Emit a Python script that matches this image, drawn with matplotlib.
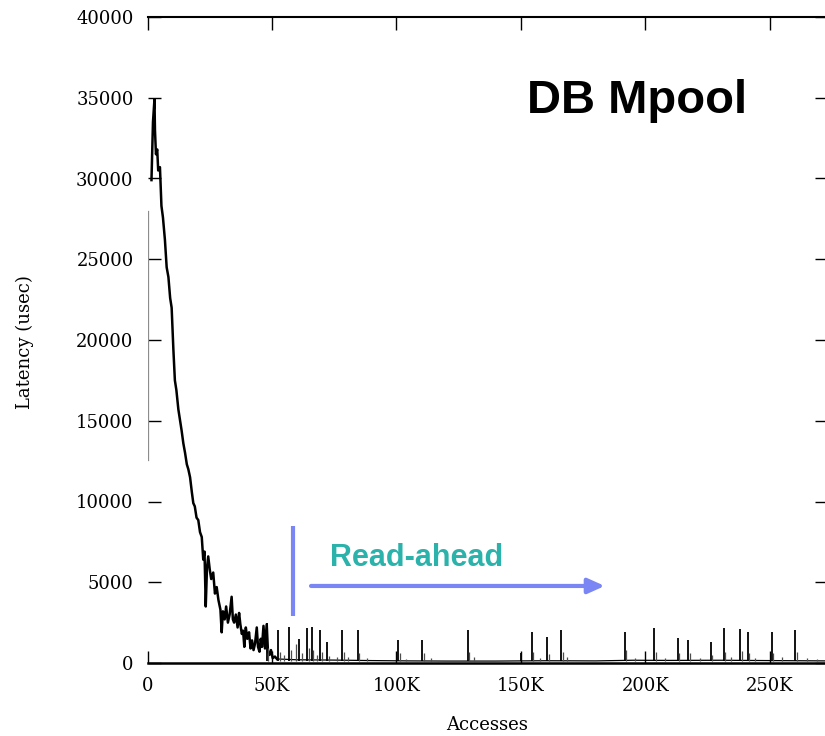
"""Latency vs accesses for DB Mpool, with read-ahead marker."""
import matplotlib
matplotlib.use('Agg')
import matplotlib.pyplot as plt

# accesses in thousands, latency in usec
start_x = [0.4, 0.4]
start_y = [12600, 28000]

decay_x = [1.6, 2.2, 2.8, 3.0, 3.4, 3.9, 4.3, 5.0, 5.6, 6.2, 7.0, 7.7, 8.4, 9.1,
           9.7, 10.4, 11.0, 11.6, 12.4, 13.0, 13.7, 14.4, 15.1, 15.8, 16.4, 17.1,
           17.8, 18.4, 19.0, 19.7, 20.4, 21.1, 21.8, 22.4, 22.9, 23.4, 23.9, 24.4,
           25.0, 25.6, 26.4, 27.1, 27.8, 28.5, 29.3, 29.8, 30.3, 31.0, 31.6, 32.3,
           33.0, 33.8, 34.3, 34.8, 35.5, 36.2, 36.8, 37.3, 37.9, 38.4, 38.9, 39.5,
           40.1, 40.8, 41.4, 42.0, 42.6, 43.2, 43.9, 44.4, 45.0, 45.5, 46.0, 46.6,
           47.2, 47.9, 48.4, 49.0, 49.6, 50.3, 51.2, 52.0]
decay_y = [29900, 33500, 34900, 33000, 31500, 31800, 30500, 30700, 28300, 27600,
           26200, 24500, 23900, 22600, 22000, 19400, 17500, 16900, 15700, 15100,
           14400, 13600, 13000, 12300, 12000, 11500, 10600, 9900, 9700, 9000, 8850,
           8100, 7800, 6400, 6900, 3500, 5900, 6600, 5800, 5200, 5600, 4300, 4700,
           3900, 3300, 1900, 3200, 2700, 3500, 2500, 3000, 4100, 2700, 2500, 3000,
           2200, 3100, 2400, 1800, 2000, 1000, 2200, 1500, 1900, 900, 1400, 800,
           1200, 2200, 1000, 700, 1500, 1000, 2300, 900, 2400, 700, 500, 800, 300,
           400, 250]

base_x = [52.0, 60.0, 75.0, 90.0, 105.0, 120.0, 140.0, 160.0, 180.0, 195.0, 210.0,
          230.0, 250.0, 273.0]
base_y = [250, 200, 180, 150, 130, 120, 120, 140, 130, 170, 160, 170, 150, 130]

spike_x = [47.9, 52.5, 57.0, 61.0, 64.2, 66.0, 69.3, 72.0, 78.2, 84.4, 100.7,
           110.4, 128.6, 150.0, 154.3, 160.7, 166.3, 191.8, 203.5, 213.0, 217.2,
           226.5, 231.5, 238.2, 241.2, 250.8, 260.1]
spike_y = [2480, 2040, 2230, 1500, 2170, 2230, 2040, 1300, 2040, 2040, 1420,
           1420, 2040, 620, 1920, 1610, 2040, 1940, 2150, 1530, 1420, 1320, 2150,
           2100, 1940, 1940, 2050]

small_x = [48.5, 53.2, 55.0, 57.6, 59.5, 62.0, 64.9, 66.6, 68.0, 70.0, 73.0,
           76.0, 78.8, 80.5, 85.0, 88.0, 101.3, 104.0, 111.0, 114.0, 129.2, 131.0,
           155.0, 157.5, 161.3, 166.9, 168.5, 192.4, 196.0, 204.1, 208.0, 213.6,
           217.8, 222.0, 226.9, 232.1, 234.5, 238.8, 241.6, 244.0, 251.3, 255.0,
           260.8, 265.0, 269.0]
small_y = [900, 700, 500, 800, 1200, 600, 900, 800, 500, 700, 450, 400, 700, 350,
           650, 300, 600, 250, 600, 300, 700, 350, 700, 300, 550, 700, 350, 800,
           300, 700, 300, 600, 600, 300, 500, 700, 400, 750, 650, 300, 650, 350,
           700, 300, 250]

xticks = [0, 50, 100, 150, 200, 250]
xtick_labels = ['0', '50K', '100K', '150K', '200K', '250K']
yticks = list(range(0, 40001, 5000))

W, H = 825, 736
fig = plt.figure(figsize=(W / 100, H / 100), dpi=100)
ax = fig.add_axes([147.5 / W, 73 / H, (827 - 147.5) / W, 646 / H])

ax.plot(start_x, start_y, color='0.55', lw=0.9)
ax.plot(decay_x, decay_y, color='black', lw=1.8)
ax.plot(base_x, base_y, color='black', lw=0.9)
ax.vlines(spike_x, 100, spike_y, color='black', lw=1.3)
ax.vlines(small_x, 100, small_y, color='0.3', lw=0.9)

ax.set_xlim(0, 273)
ax.set_ylim(0, 40000)
ax.set_xticks(xticks)
ax.set_xticklabels(xtick_labels)
ax.set_yticks(yticks)

serif = 'DejaVu Serif'
ax.tick_params(direction='in', length=9, width=1.0, top=True, right=True,
               labelsize=13, pad=10)
for lab in ax.get_xticklabels() + ax.get_yticklabels():
	lab.set_family(serif)
ax.spines['left'].set_visible(False)
ax.spines['right'].set_visible(False)
ax.spines['top'].set_linewidth(1.5)
ax.spines['bottom'].set_linewidth(1.8)

fig.text(25 / W, 1 - 342 / H, 'Latency (usec)', rotation=90, ha='center',
         va='center', family=serif, fontsize=13)
fig.text(487 / W, 1 - 725 / H, 'Accesses', ha='center', va='center',
         family=serif, fontsize=13)

fig.text(527 / W, 1 - 113 / H, 'DB Mpool', ha='left', va='baseline',
         family='Liberation Sans', fontweight='bold', fontsize=34)

# read-ahead marker
blue = '#7a86f3'
ax.plot([58.4, 58.4], [2900, 8500], color=blue, lw=3, solid_capstyle='butt')
ax.annotate('', xy=(183.7, 4770), xytext=(65.7, 4770),
            arrowprops=dict(arrowstyle='-|>,head_length=1.0,head_width=0.45',
                            color=blue, lw=3, shrinkA=0, shrinkB=0))
fig.text(330 / W, 1 - 566 / H, 'Read-ahead', ha='left', va='baseline',
         family='Liberation Sans', fontweight='bold', fontsize=22,
         color='#2bb2aa')

fig.savefig('out.png', dpi=100)
